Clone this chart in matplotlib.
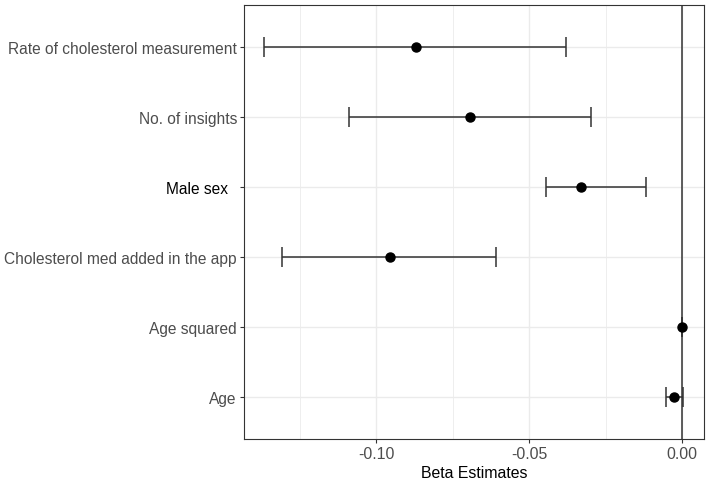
import numpy as np
import matplotlib
matplotlib.use("Agg")
import matplotlib.pyplot as plt
from matplotlib.ticker import MultipleLocator

plt.rcParams['font.family'] = ['Liberation Sans', 'DejaVu Sans']

# predictors, bottom to top
labels = ["Age", "Age squared", "Cholesterol med added in the app",
          "Male sex  ", "No. of insights", "Rate of cholesterol measurement"]
beta = [-0.0025, 0.0, -0.0955, -0.033, -0.0694, -0.0871]
lower = [-0.0052, 0.0, -0.1306, -0.0446, -0.1090, -0.1365]
upper = [0.0004, 0.0, -0.0609, -0.0119, -0.0298, -0.0380]

fig = plt.figure(figsize=(7.09, 4.81), dpi=100)
ax = fig.add_axes([0.344, 0.085, 0.649, 0.9025])

y = np.arange(1, len(labels) + 1)
beta = np.array(beta)
xerr = [beta - np.array(lower), np.array(upper) - beta]

# grid, like theme_bw
ax.xaxis.set_major_locator(MultipleLocator(0.05))
ax.xaxis.set_minor_locator(MultipleLocator(0.025))
ax.grid(which='major', color='#EBEBEB', linewidth=1.0, zorder=0)
ax.grid(which='minor', axis='x', color='#EBEBEB', linewidth=0.6, zorder=0)
ax.set_axisbelow(True)

ax.axvline(0, color='#333333', linewidth=1.1, zorder=1)

ax.errorbar(beta, y, xerr=xerr, fmt='o', color='black', ecolor='#333333',
            elinewidth=1.1, capsize=7, capthick=1.1, markersize=6.5, zorder=3)

ax.set_xlim(-0.1432, 0.0072)
ax.set_ylim(0.4, 6.6)
ax.set_yticks(y)
ax.set_yticklabels(labels)
ax.set_xticks([-0.10, -0.05, 0.00])
ax.set_xticklabels(["-0.10", "-0.05", "0.00"])

for lab in ax.get_yticklabels():
    lab.set_color('#4D4D4D')
    lab.set_fontsize(11.2)
ax.get_yticklabels()[3].set_color('black')
for lab in ax.get_xticklabels():
    lab.set_color('#4D4D4D')
    lab.set_fontsize(11.4)

ax.tick_params(which='major', length=3, width=0.8, color='#333333', pad=2)
ax.tick_params(which='minor', length=0)

for s in ax.spines.values():
    s.set_color('#333333')
    s.set_linewidth(0.8)

ax.set_xlabel("Beta Estimates", fontsize=11.4, color='black', labelpad=3)

fig.savefig("out.png", dpi=100)
